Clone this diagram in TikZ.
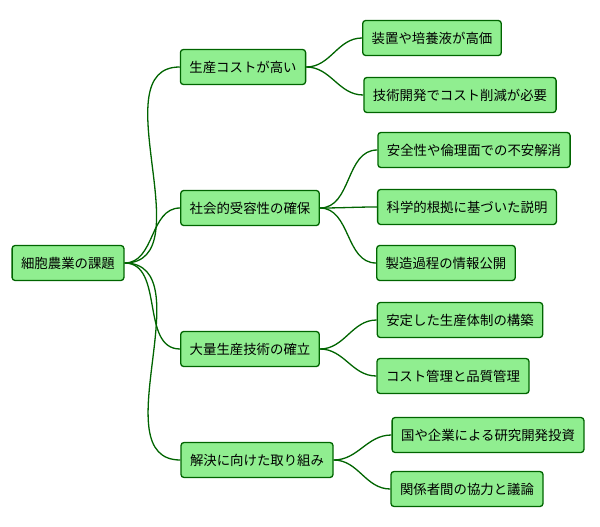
\documentclass[tikz,border=0pt]{standalone}
\usepackage{fontspec}
\setmainfont{Noto Sans CJK JP}
\definecolor{leaf}{HTML}{90EE90}
\definecolor{edgegreen}{HTML}{006400}
\begin{document}
\begin{tikzpicture}
          [x=1pt,y=-1pt,every node/.style={draw=edgegreen, fill=leaf, line width=1.3pt, rounded corners=3pt, inner xsep=9pt, minimum height=35pt, font=\fontsize{13.4}{15}\selectfont}]
        \useasboundingbox (0,0) rectangle (600,527);
        \node (root) at (68,263) {細胞農業の課題};

        \node (cost) at (243,67) {生産コストが高い};
        \node (accept) at (250,208) {社会的受容性の確保};
        \node (mass) at (250,349) {大量生産技術の確立};
        \node (solve) at (257,460) {解決に向けた取り組み};

        \node (c1) at (432,38) {装置や培養液が高価};
        \node (c2) at (460,95) {技術開発でコスト削減が必要};
        \node (a1) at (474,150) {安全性や倫理面での不安解消};
        \node (a2) at (467,207) {科学的根拠に基づいた説明};
        \node (a3) at (446,263) {製造過程の情報公開};
        \node (m1) at (460,320) {安定した生産体制の構築};
        \node (m2) at (453,376) {コスト管理と品質管理};
        \node (s1) at (488,435) {国や企業による研究開発投資};
        \node (s2) at (467,489) {関係者間の協力と議論};

        \foreach \from/\to in {root/cost, root/accept, root/mass, root/solve, cost/c1, cost/c2, accept/a1, accept/a2, accept/a3, mass/m1, mass/m2, solve/s1, solve/s2}
          \draw[edgegreen, line width=1.3pt] (\from.east) to[out=0, in=180] (\to.west);
      \end{tikzpicture}
\end{document}
